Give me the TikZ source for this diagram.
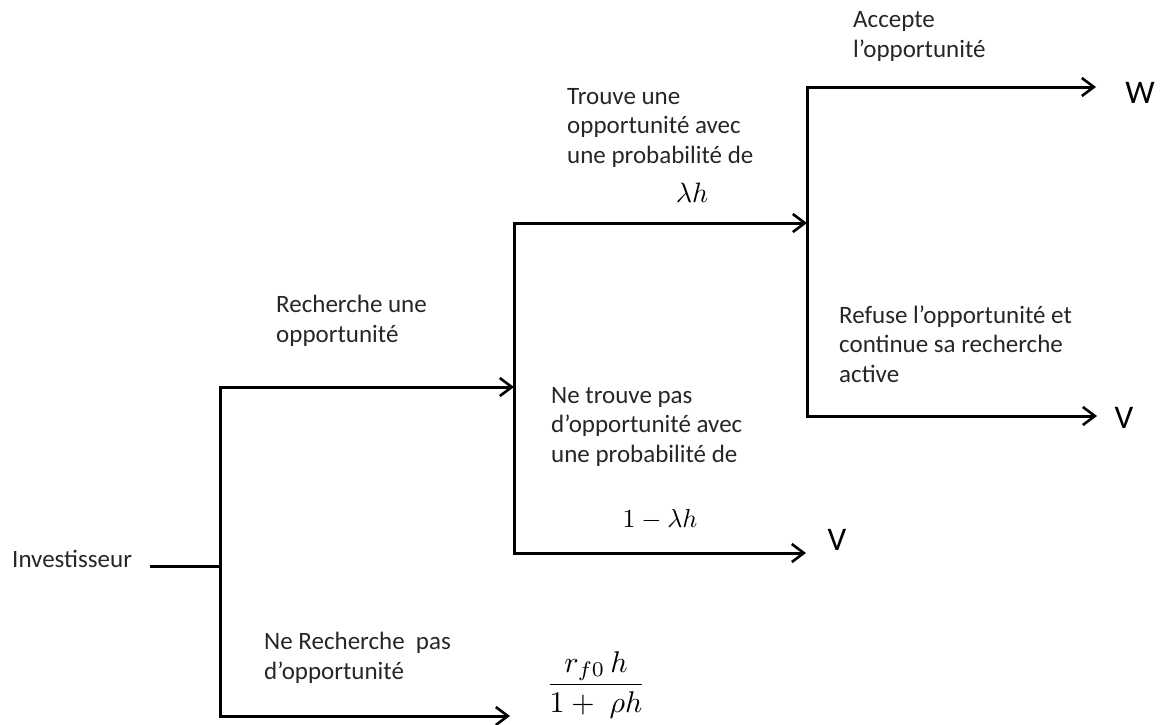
\documentclass[tikz,border=0pt]{standalone}
\usepackage{amsmath}
\usepackage{graphicx}
\usepackage{fontspec}
\setmainfont{Carlito}
\usetikzlibrary{arrows.meta}
\begin{document}
\begin{tikzpicture}[x=1pt,y=-1pt,
  branch/.style={line width=3pt, draw=black, line join=miter},
  arr/.style={branch, -{Straight Barb[length=12pt,width=18pt,line width=2.6pt]}},
  lbl/.style={anchor=base west, inner sep=0pt, align=left, text=black!85,
    font=\fontsize{25}{29.5}\selectfont},
  outlbl/.style={inner sep=0pt, text=black, font=\fontsize{33}{36}\selectfont},
  mathlbl/.style={inner sep=0pt, text=black, font=\fontsize{10}{12}\selectfont}
]
\useasboundingbox (0,0) rectangle (1167,724);

% junction coordinates
\coordinate (i0) at (150,566);
\coordinate (j1) at (220,566);
\coordinate (j1t) at (220,387);
\coordinate (j1b) at (220,716);
\coordinate (j2) at (514,387);
\coordinate (j2t) at (514,223);
\coordinate (j2b) at (514,553);
\coordinate (j3) at (807,223);
\coordinate (j3t) at (807,87);
\coordinate (j3b) at (807,416);
\coordinate (eW) at (1096,87);
\coordinate (eV2) at (1097,416);
\coordinate (eV1) at (806,553);
\coordinate (eF) at (510,716);

% labels (anchor = baseline of the last line)
\node[lbl] (inv) at (12,567) {Investisseur};
\node[lbl] (rech) at (276,342) {Recherche une\\opportunité};
\node[lbl] (nrech) at (264,679) {Ne Recherche\ \ pas\\d’opportunité};
\node[lbl] (trouve) at (567,163) {Trouve une\\opportunité avec\\une probabilité de};
\node[mathlbl, anchor=base] (lh) at (692,202) {\scalebox{2.8}{$\lambda h$}};
\node[lbl] (ntrouve) at (551,462) {Ne trouve pas\\d’opportunité avec\\une probabilité de};
\node[mathlbl, anchor=base] (mlh) at (660,527) {\scalebox{2.6}{$1-\lambda h$}};
\node[lbl] (acc) at (853,57) {Accepte\\l’opportunité};
\node[lbl] (ref) at (839,382) {Refuse l’opportunité et\\continue sa recherche\\active};
\node[outlbl] (W) at (1140,93) {W};
\node[outlbl] (V2) at (1124,418) {V};
\node[outlbl] (V1) at (837,540) {V};
\node[mathlbl] (frac) at (596,685) {\scalebox{3}{$\dfrac{r_{f0}\,h}{1+\;\rho h}$}};

% connectors
\draw[branch] (i0) -- (j1);
\draw[arr] (j1b) -- (j1t) -- (j2);
\draw[arr] (j1t) -- (j1b) -- (eF);
\draw[arr] (j2b) -- (j2t) -- (j3);
\draw[arr] (j2t) -- (j2b) -- (eV1);
\draw[arr] (j3b) -- (j3t) -- (eW);
\draw[arr] (j3t) -- (j3b) -- (eV2);
\end{tikzpicture}
\end{document}
